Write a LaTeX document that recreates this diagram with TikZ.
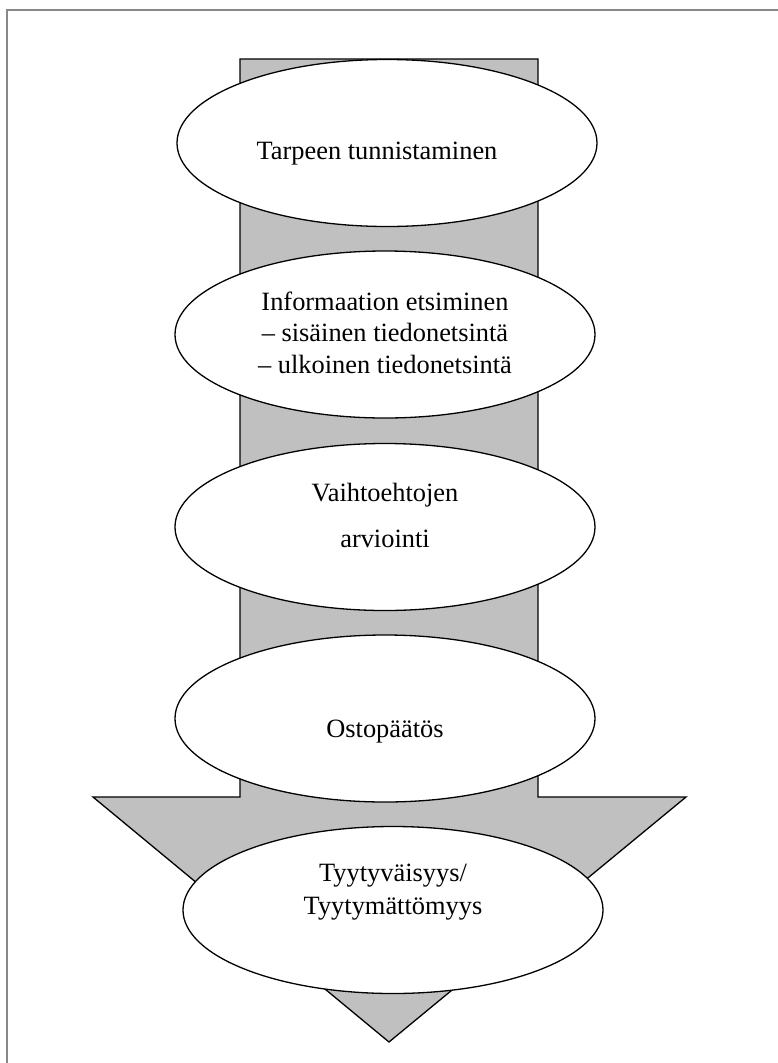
\documentclass[tikz,border=0pt]{standalone}
\usepackage{fontspec}
\setmainfont{Liberation Serif}
\usepackage{tikz}
\usetikzlibrary{shapes.geometric}
\usetikzlibrary{positioning}

\definecolor{arrowgray}{RGB}{192,192,192}
\definecolor{framegray}{RGB}{136,136,136}

\tikzset{
	stage/.style={ellipse,draw,fill=white,line width=1.3pt,minimum width=420pt,minimum height=167pt,inner sep=0pt},
	stagetext/.style={align=center,font=\fontsize{26.4}{31.5}\selectfont,inner sep=0pt}
}

\begin{document}
\begin{tikzpicture}[x=1pt,y=-1pt]
		\useasboundingbox (0,0) rectangle (778,1063);
		\fill[white] (0,0) rectangle (778,1063);
		\draw[framegray,line width=2.2pt] (7,1080) -- (7,10) -- (790,10); %frame%
		\draw[fill=arrowgray,line width=1.3pt,line join=miter] (240,59) -- (538,59) -- (538,797) -- (686,797) -- (389,1042) -- (93,797) -- (240,797) -- cycle;
		\node[stage] (need) at (387,143) {};
		\node[stage] (search) at (385,334.5) {};
		\node[stage] (eval) at (385,527) {};
		\node[stage] (decide) at (385,718.5) {};
		\node[stage] (outcome) at (393,910) {};
		\node[stagetext] (needtxt) at ([xshift=-10pt,yshift=-11pt]need.center) {Tarpeen tunnistaminen};
		\node[stagetext] (searchtxt) at ([yshift=2pt]search.center) {Informaation etsiminen\\ -- sisäinen tiedonetsintä\\ -- ulkoinen tiedonetsintä};
		\node[stagetext,font=\fontsize{26.4}{46}\selectfont] (evaltxt) at ([yshift=12pt]eval.center) {Vaihtoehtojen\\ arviointi};
		\node[stagetext] (decidetxt) at ([yshift=-13pt]decide.center) {Ostopäätös};
		\node[stagetext,font=\fontsize{26.4}{33}\selectfont] (outcometxt) at ([yshift=18pt]outcome.center) {Tyytyväisyys/\\ Tyytymättömyys};
	\end{tikzpicture}
\end{document}
